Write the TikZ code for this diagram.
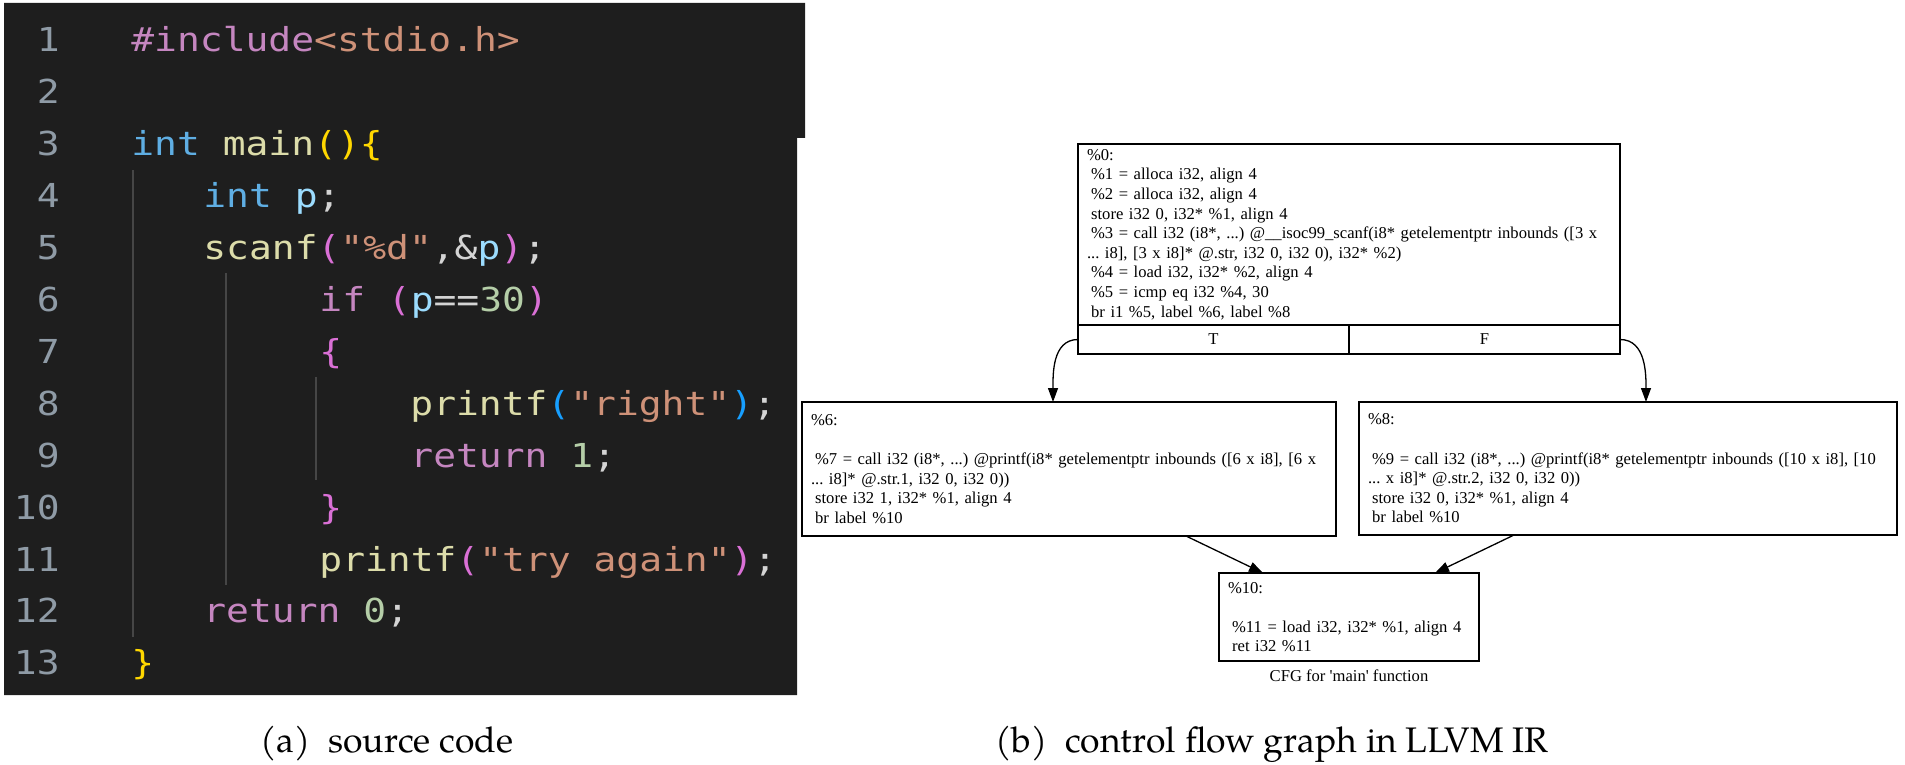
\documentclass[tikz,border=0pt]{standalone}
\usepackage{fontspec}
\usepackage{xcolor}
\usepackage{tikz}
\usetikzlibrary{arrows.meta, positioning, calc}

\newfontfamily\codefont{DejaVu Sans Mono}[FakeStretch=1.15, Ligatures=TeXOff]
\newfontfamily\irfont{Liberation Serif}[Ligatures=TeXOff]
\newfontfamily\capfont{TeX Gyre Pagella}
\newcommand{\irsp}{\hspace*{0.25em}}

\definecolor{editorbg}{HTML}{1E1E1E}
\definecolor{guidegray}{HTML}{464646}
\definecolor{linenum}{HTML}{8F9BA6}
\definecolor{codewhite}{HTML}{D4D4D4}
\definecolor{kwpink}{HTML}{C586C0}
\definecolor{strorange}{HTML}{CE9178}
\definecolor{typeblue}{HTML}{5FAEE3}
\definecolor{varblue}{HTML}{9CDCFE}
\definecolor{fnyellow}{HTML}{DCDCAA}
\definecolor{brgold}{HTML}{FFD700}
\definecolor{brorchid}{HTML}{DA70D6}
\definecolor{brblue}{HTML}{179FFF}
\definecolor{numgreen}{HTML}{B5CEA8}

\begin{document}
\frenchspacing
\begin{tikzpicture}[x=1pt, y=-1pt, thick]
    \tikzstyle{codeline} = [anchor=base west, inner sep=0pt, text=codewhite, font=\codefont\fontsize{33}{40}\selectfont]
    \tikzstyle{lineno} = [anchor=base east, inner sep=0pt, text=linenum, font=\codefont\fontsize{33}{40}\selectfont]
    \tikzstyle{guide} = [draw=guidegray, line width=1.5pt]
    \tikzstyle{block} = [rectangle, draw, line width=1.4pt, outer sep=0pt, anchor=north west, align=left, inner xsep=9pt, inner ysep=4pt, font=\irfont\fontsize{16.6}{19.6}\selectfont]
    \tikzstyle{port} = [rectangle, draw, line width=1.4pt, outer sep=0pt, minimum width=271pt, minimum height=29pt, inner sep=0pt, font=\irfont\fontsize{16.6}{19.6}\selectfont]
    \tikzstyle{edge} = [draw, line width=1.3pt, -{Triangle[length=14pt, width=10pt]}]
    \tikzstyle{caption} = [anchor=base west, inner sep=0pt, font=\capfont\fontsize{35.5}{40}\selectfont]

    \useasboundingbox (0,0) rectangle (1905,765);
    \fill [editorbg] (4,3) -- (805,3) -- (805,138) -- (797,138) -- (797,695) -- (4,695) -- cycle;

    \draw [guide] (133,170) -- (133,637);
    \draw [guide] (226,273) -- (226,585);
    \draw [guide] (316,377) -- (316,480);

    \foreach \n in {1,...,13}
        \node [lineno] (num\n) at (60, {52+51.9*(\n-1)}) {\n};

    \node [codeline] (code1) at (131,52) {\textcolor{kwpink}{\#include}\textcolor{strorange}{<stdio.h>}};
    \node [codeline] (code3) at (131,155.8) {\textcolor{typeblue}{int} \textcolor{fnyellow}{main}\textcolor{brgold}{()\{}};
    \node [codeline] (code4) at (203,207.7) {\textcolor{typeblue}{int} \textcolor{varblue}{p};};
    \node [codeline] (code5) at (203,259.6) {\textcolor{fnyellow}{scanf}\textcolor{brorchid}{(}\textcolor{strorange}{"\%d"},\&\textcolor{varblue}{p}\textcolor{brorchid}{)};};
    \node [codeline] (code6) at (319,311.5) {\textcolor{kwpink}{if} \textcolor{brorchid}{(}\textcolor{varblue}{p}==\textcolor{numgreen}{30}\textcolor{brorchid}{)}};
    \node [codeline] (code7) at (319,363.4) {\textcolor{brorchid}{\{}};
    \node [codeline] (code8) at (410,415.3) {\textcolor{fnyellow}{printf}\textcolor{brblue}{(}\textcolor{strorange}{"right"}\textcolor{brblue}{)};};
    \node [codeline] (code9) at (410,467.2) {\textcolor{kwpink}{return} \textcolor{numgreen}{1};};
    \node [codeline] (code10) at (319,519.1) {\textcolor{brorchid}{\}}};
    \node [codeline] (code11) at (319,571) {\textcolor{fnyellow}{printf}\textcolor{brorchid}{(}\textcolor{strorange}{"try again"}\textcolor{brorchid}{)};};
    \node [codeline] (code12) at (203,622.9) {\textcolor{kwpink}{return} \textcolor{numgreen}{0};};
    \node [codeline] (code13) at (131,674.8) {\textcolor{brgold}{\}}};

    \node [block, text width=524pt, minimum height=181pt] (entry) at (1078,144) {\%0:\\
        \irsp\%1 = alloca i32, align 4\\
        \irsp\%2 = alloca i32, align 4\\
        \irsp store i32 0, i32* \%1, align 4\\
        \mbox{\irsp\%3 = call i32 (i8*, ...) @\_\_isoc99\_scanf(i8* getelementptr inbounds ([3 x}\\
        \mbox{... i8], [3 x i8]* @.str, i32 0, i32 0), i32* \%2)}\\
        \irsp\%4 = load i32, i32* \%2, align 4\\
        \irsp\%5 = icmp eq i32 \%4, 30\\
        \irsp br i1 \%5, label \%6, label \%8};
    \node [port, anchor=north west] (tport) at (entry.south west) {T};
    \node [port, anchor=north east] (fport) at (entry.south east) {F};

    \node [block, text width=516pt, minimum height=134pt] (ifthen) at (802,402) {\%6:\\ \mbox{}\\
        \mbox{\irsp\%7 = call i32 (i8*, ...) @printf(i8* getelementptr inbounds ([6 x i8], [6 x}\\
        \mbox{... i8]* @.str.1, i32 0, i32 0))}\\
        \irsp store i32 1, i32* \%1, align 4\\
        \irsp br label \%10};
    \node [block, text width=520pt, minimum height=133pt] (ifelse) at (1359,402) {\%8:\\ \mbox{}\\
        \mbox{\irsp\%9 = call i32 (i8*, ...) @printf(i8* getelementptr inbounds ([10 x i8], [10}\\
        \mbox{... x i8]* @.str.2, i32 0, i32 0))}\\
        \irsp store i32 0, i32* \%1, align 4\\
        \irsp br label \%10};
    \node [block, text width=242pt, minimum height=88pt] (exit) at (1219,573) {\%10:\\ \mbox{}\\
        \mbox{\irsp\%11 = load i32, i32* \%1, align 4}\\
        \irsp ret i32 \%11};
    \node [below=8pt of exit, inner sep=0pt, font=\irfont\fontsize{16.6}{19.6}\selectfont] (title) {CFG for 'main' function};

    \path [edge] (tport.west) to[out=180, in=90] ([xshift=-16pt]ifthen.north);
    \path [edge] (fport.east) to[out=0, in=90] ([xshift=18pt]ifelse.north);
    \path [edge] ([xshift=117pt]ifthen.south) -- ([xshift=-86pt]exit.north);
    \path [edge] ([xshift=-114pt]ifelse.south) -- ([xshift=86pt]exit.north);

    \node [caption] (capa) at (260,752) {(a)\enspace source code};
    \node [caption] (capb) at (995,752) {(b)\enspace control flow graph in LLVM IR};
\end{tikzpicture}
\end{document}
